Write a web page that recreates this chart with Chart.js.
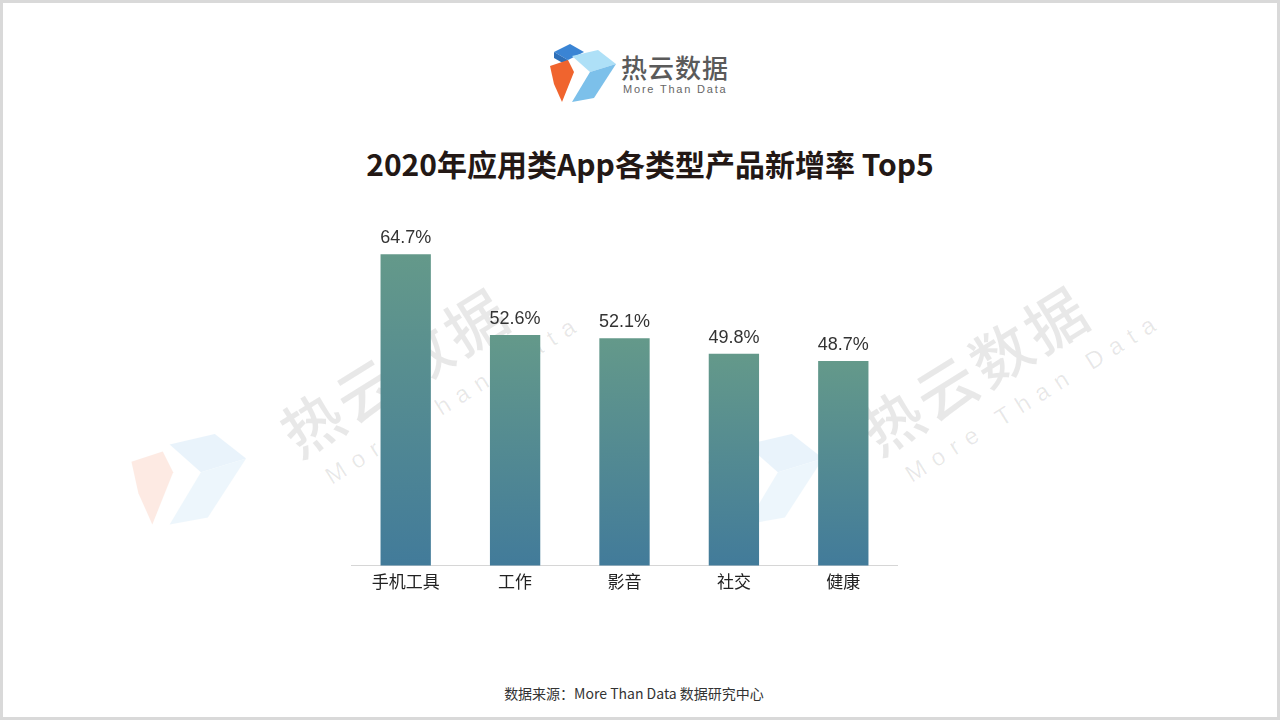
<!DOCTYPE html>
<html>
<head>
<meta charset="utf-8">
<script src="https://cdn.jsdelivr.net/npm/chart.js@4/dist/chart.umd.min.js"></script>
<style>
  html, body { margin: 0; padding: 0; }
  body {
    width: 1280px; height: 720px; position: relative; overflow: hidden; background: #fff;
    font-family: "Noto Sans CJK SC", "Liberation Sans", sans-serif;
  }
  .abs { position: absolute; }
  #frame { left: 0; top: 0; width: 1280px; height: 720px; box-sizing: border-box; border: 3px solid #d9d9d9; }
  #brand { left: 621px; top: 48px; font-size: 26px; color: #5a5a5a; letter-spacing: 1px; font-weight: 500; }
  #brandSub { left: 623px; top: 83px; font-size: 11px; color: #666; letter-spacing: 1.8px; font-family: "Liberation Sans", sans-serif; }
  #title { left: 0; width: 1300px; top: 141px; text-align: center; font-size: 30px; font-weight: 700; color: #231815; }
  #source { left: 0; width: 1268px; top: 683px; text-align: center; font-size: 14px; color: #333; }
  .wm { color: rgba(0,0,0,0.09); transform: rotate(-32deg); transform-origin: left top; white-space: nowrap; }
  .wm .big { font-size: 60px; letter-spacing: 4px; font-weight: 500; }
  .wm .small { font-size: 24px; letter-spacing: 9px; font-family: "Liberation Sans", sans-serif; margin-left: 14px; }
  #chartBox { left: 351px; top: 219px; width: 547px; height: 379px; }
</style>
</head>
<body>
<div id="frame" class="abs"></div>
<svg class="abs" style="left:548px;top:42px" width="72" height="66" viewBox="0 0 72 66">
  <polygon points="6,10 22,2 36,10 20,18" fill="#3a84d4"/>
  <polygon points="6,10 20,18 20,24 6,16" fill="#2e6fb8"/>
  <polygon points="24,14 50,8 68,22 42,30" fill="#aee0f7"/>
  <polygon points="42,30 68,22 46,56 24,60" fill="#7cc0ea"/>
  <polygon points="2,24 20,18 26,30 14,60 6,42" fill="#f0642e"/>
</svg>
<div id="brand" class="abs">热云数据</div>
<div id="brandSub" class="abs">More Than Data</div>

<div class="abs wm" style="left:262px;top:400px"><div class="big">热云数据</div><div class="small">More Than Data</div></div>
<div class="abs wm" style="left:842px;top:398px"><div class="big">热云数据</div><div class="small">More Than Data</div></div>
<svg class="abs" style="left:128px;top:405px;opacity:0.13" width="125" height="145" viewBox="0 0 72 66">
  <polygon points="24,14 50,8 68,22 42,30" fill="#5aa8e6"/>
  <polygon points="42,30 68,22 46,56 24,60" fill="#7cc0ea"/>
  <polygon points="2,24 20,18 26,30 14,60 6,42" fill="#f0642e"/>
</svg>
<svg class="abs" style="left:705px;top:405px;opacity:0.13" width="125" height="145" viewBox="0 0 72 66">
  <polygon points="24,14 50,8 68,22 42,30" fill="#5aa8e6"/>
  <polygon points="42,30 68,22 46,56 24,60" fill="#7cc0ea"/>
  <polygon points="2,24 20,18 26,30 14,60 6,42" fill="#f0642e"/>
</svg>

<div id="title" class="abs">2020年应用类App各类型产品新增率 Top5</div>
<div id="chartBox" class="abs"><canvas id="chart"></canvas></div>
<div id="source" class="abs">数据来源：More Than Data 数据研究中心</div>

<script>
const categories = ["手机工具", "工作", "影音", "社交", "健康"];
const growthRates = [64.7, 52.6, 52.1, 49.8, 48.7];

// draw the value above each bar
const valueLabels = {
  id: "valueLabels",
  afterDatasetsDraw(chart) {
    const ctx = chart.ctx;
    const meta = chart.getDatasetMeta(0);
    ctx.save();
    ctx.font = '18px "Liberation Sans", sans-serif';
    ctx.fillStyle = "#333";
    ctx.textAlign = "center";
    ctx.textBaseline = "bottom";
    meta.data.forEach((bar, i) => {
      ctx.fillText(growthRates[i].toFixed(1) + "%", bar.x, bar.y - 7);
    });
    ctx.restore();
  },
};

function barGradient(context) {
  const chart = context.chart;
  const area = chart.chartArea;
  if (!area || context.type !== "data") return "#4f8a93";
  const top = chart.scales.y.getPixelForValue(context.parsed.y);
  const g = chart.ctx.createLinearGradient(0, top, 0, area.bottom);
  g.addColorStop(0, "#64998a");
  g.addColorStop(1, "#427b9a");
  return g;
}

new Chart(document.getElementById("chart"), {
  type: "bar",
  data: {
    labels: categories,
    datasets: [{ data: growthRates, backgroundColor: barGradient, borderWidth: 0 }],
  },
  plugins: [valueLabels],
  options: {
    responsive: true,
    maintainAspectRatio: false,
    animation: false,
    layout: { padding: 0 },
    plugins: { legend: { display: false }, tooltip: { enabled: false } },
    datasets: { bar: { categoryPercentage: 1, barPercentage: 0.46 } },
    scales: {
      y: { display: false, min: 18, max: 70 },
      x: {
        grid: { display: false, drawTicks: false },
        border: { display: true, color: "#d6d6d6", width: 1 },
        ticks: {
          padding: 6,
          color: "#222",
          font: { family: '"Noto Sans CJK SC", sans-serif', size: 17 },
        },
      },
    },
  },
});
</script>
</body>
</html>
